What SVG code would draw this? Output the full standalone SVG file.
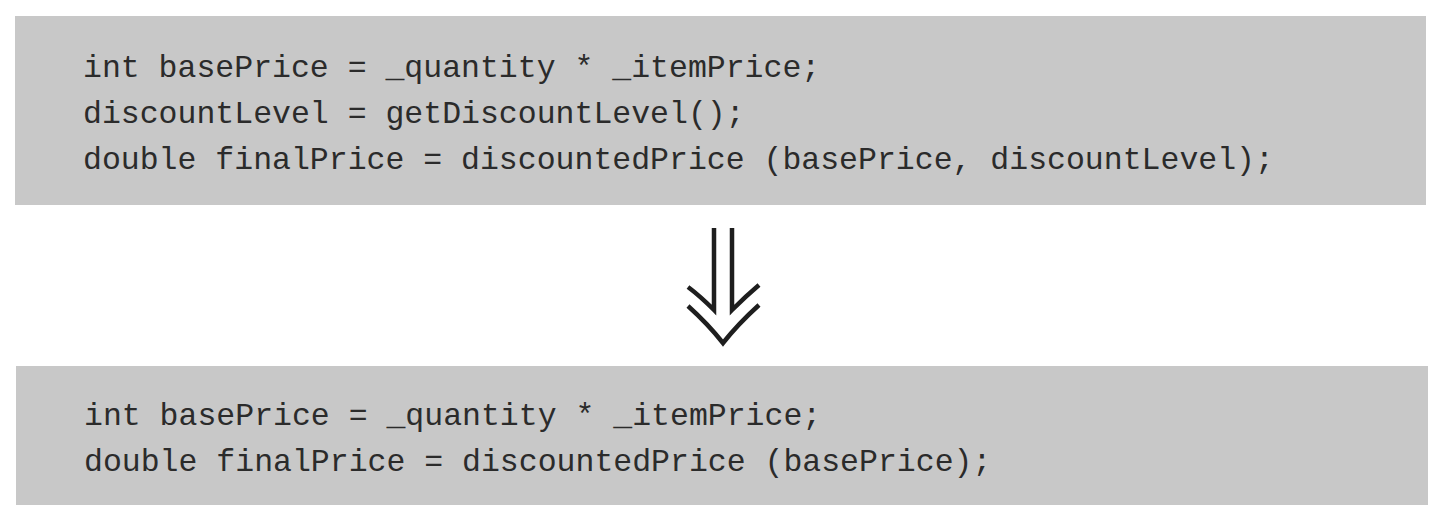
<svg xmlns="http://www.w3.org/2000/svg" width="1450" height="526" viewBox="0 0 1450 526">
  <style>
    .box { fill: #c8c8c8; }
    .code { font-family: "Liberation Mono", "Courier New", monospace; font-size: 31.5px; fill: #2b2b2b; white-space: pre; }
    .arrow { fill: none; stroke: #1e1e1e; stroke-width: 4.5; stroke-linecap: butt; stroke-linejoin: miter; }
  </style>
  <rect width="1450" height="526" fill="#ffffff"/>
  <g id="before">
    <rect class="box" x="15" y="16" width="1411" height="189"/>
    <text class="code" x="83" y="77" xml:space="preserve">int basePrice = _quantity * _itemPrice;</text>
    <text class="code" x="83" y="123" xml:space="preserve">discountLevel = getDiscountLevel();</text>
    <text class="code" x="83" y="169" xml:space="preserve">double finalPrice = discountedPrice (basePrice, discountLevel);</text>
  </g>
  <g id="after">
    <rect class="box" x="16" y="366" width="1412" height="139"/>
    <text class="code" x="84" y="425" xml:space="preserve">int basePrice = _quantity * _itemPrice;</text>
    <text class="code" x="84" y="471" xml:space="preserve">double finalPrice = discountedPrice (basePrice);</text>
  </g>
  <g id="connectors">
    <path class="arrow" d="M714 228 V310 Q700 296 688 287"/>
    <path class="arrow" d="M732 228 V310 Q746 296 759 285"/>
    <path class="arrow" d="M688 306 Q708 324 723 343 Q738 324 759 305"/>
  </g>
</svg>
